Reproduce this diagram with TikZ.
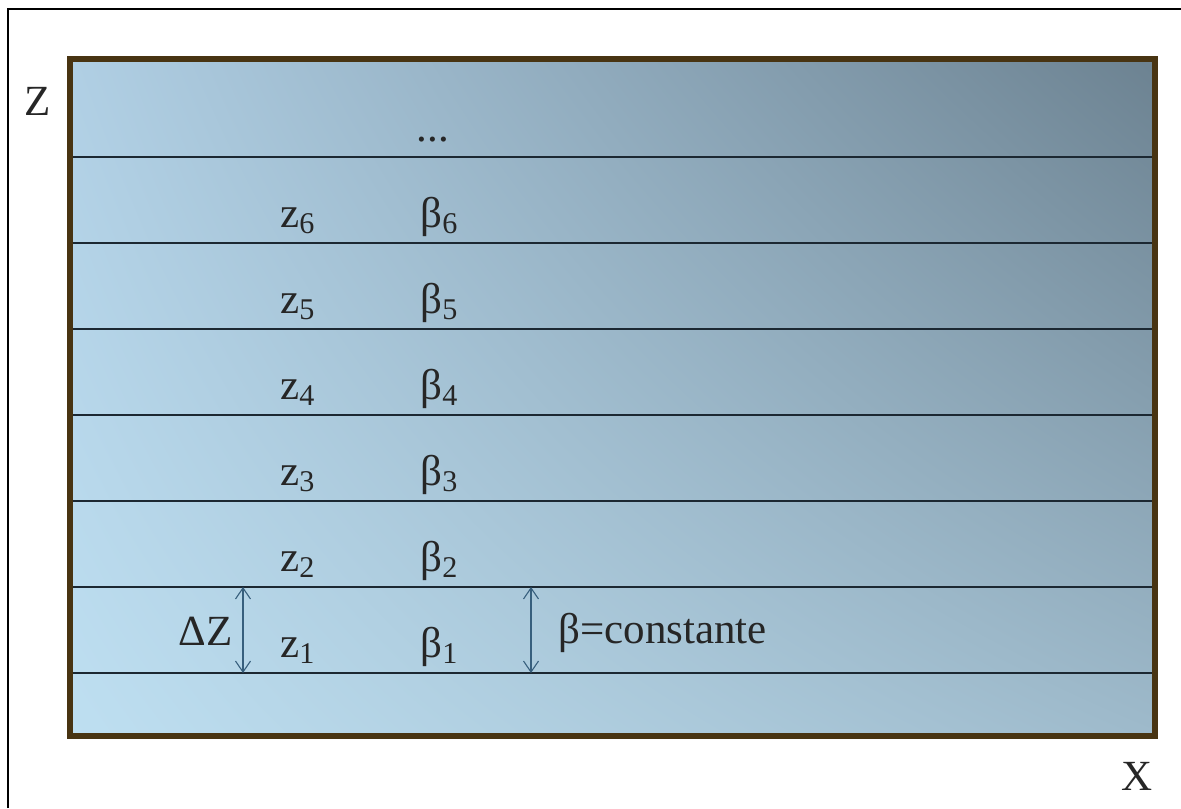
\documentclass[tikz,border=0pt]{standalone}
\usepackage{fontspec}
\setmainfont{Liberation Serif}
\usepackage{tikz}
\usetikzlibrary{positioning, arrows.meta, shadings}
\usepackage{xcolor}
\definecolor{boxEdge}{RGB}{72, 52, 18}
\definecolor{layerLn}{RGB}{28, 40, 50}
\definecolor{dimBlue}{RGB}{55, 95, 125}
\definecolor{shUL}{RGB}{176, 207, 228}
\definecolor{shUR}{RGB}{108, 130, 145}
\definecolor{shLL}{RGB}{190, 223, 241}
\definecolor{shLR}{RGB}{158, 186, 203}

\begin{document}
\begin{tikzpicture}[x=0.5pt, y=-0.5pt, >={Straight Barb[length=5.5pt, width=7.5pt]},
    font=\fontsize{21.5}{25}\selectfont]
  \tikzset{
    layerline/.style={layerLn, line width=0.8pt},
    dimarrow/.style={<->, dimBlue, line width=0.55pt},
    lbl/.style={inner sep=0pt, anchor=base west, text=black!85}
  }
  \useasboundingbox (0,0) rectangle (1181,808);

  % Frame
  \draw[line width=1.2pt] (8,808) -- (8,9) -- (1181,9);

  % Medium
  \shade[upper left=shUL, upper right=shUR, lower left=shLL, lower right=shLR]
    (70,59) rectangle (1155,736);

  % Layers
  \foreach \y in {157,243,...,673}
    \draw[layerline] (70,\y) -- (1155,\y);

  \draw[boxEdge, line width=2.6pt] (70,59) rectangle (1155,736);

  % Layer labels
  \foreach \i in {1,...,6} {
    \node[lbl] (z\i) at (280,{743-86*\i}) {z\textsubscript{\i}};
    \node[lbl] (b\i) at (420,{743-86*\i}) {β\textsubscript{\i}};
  }
  \node[lbl, anchor=base] (dots) at (433,141) {...};

  % Axes
  \node[lbl, anchor=base] (zaxis) at (38,115) {Z};
  \node[lbl, anchor=base] (xaxis) at (1137,790) {X};

  % Thickness of a layer
  \coordinate (dzTop) at (243,587);
  \coordinate (dzBot) at (243,673);
  \draw[dimarrow] (dzTop) -- (dzBot);
  \node[lbl, anchor=base east] (dz) at (233,645) {ΔZ};

  \coordinate (ctTop) at (531,587);
  \coordinate (ctBot) at (531,673);
  \draw[dimarrow] (ctTop) -- (ctBot);
  \node[lbl] (cst) at (558,643) {β=constante};
\end{tikzpicture}
\end{document}
